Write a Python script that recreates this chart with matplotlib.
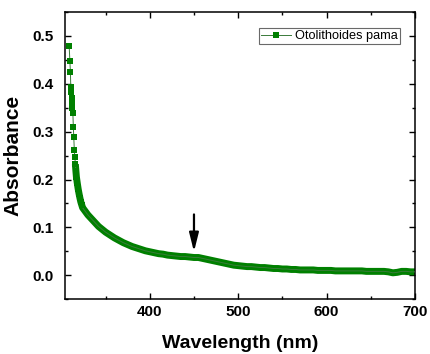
import matplotlib
matplotlib.use("Agg")
import matplotlib.pyplot as plt
from matplotlib.ticker import MultipleLocator

plt.rcParams['font.family'] = ['Liberation Sans', 'DejaVu Sans']

wavelength = [308.8, 309.6, 310.2, 310.6, 311.2, 311.6, 312.0, 312.4, 313.0, 313.5,
              314.0, 314.6, 315.2, 315.8, 316.4, 317.0, 318.0, 319.0, 320.0, 321.0,
              322.0, 323.0, 324.0, 326.0, 328.0, 330.0, 332.0, 334.0, 336.0, 338.0,
              340.0, 342.0, 344.0, 346.0, 348.0, 350.0, 355.0, 360.0, 365.0, 370.0,
              375.0, 380.0, 385.0, 390.0, 395.0, 400.0, 405.0, 410.0, 415.0, 420.0,
              425.0, 430.0, 435.0, 440.0, 445.0, 450.0, 455.0, 460.0, 465.0, 470.0,
              475.0, 480.0, 485.0, 490.0, 495.0, 500.0, 505.0, 510.0, 515.0, 520.0,
              525.0, 530.0, 535.0, 540.0, 545.0, 550.0, 555.0, 560.0, 565.0, 570.0,
              575.0, 580.0, 585.0, 590.0, 595.0, 600.0, 605.0, 610.0, 615.0, 620.0,
              625.0, 630.0, 635.0, 640.0, 645.0, 650.0, 655.0, 660.0, 665.0, 670.0,
              675.0, 680.0, 685.0, 690.0, 695.0, 700.0]
absorbance = [0.479, 0.447, 0.425, 0.394, 0.382, 0.370, 0.358, 0.350, 0.338, 0.310,
              0.289, 0.262, 0.247, 0.232, 0.218, 0.205, 0.192, 0.180, 0.170, 0.161,
              0.153, 0.147, 0.141, 0.136, 0.131, 0.126, 0.122, 0.118, 0.114, 0.110,
              0.106, 0.102, 0.099, 0.096, 0.093, 0.090, 0.084, 0.078, 0.073, 0.068,
              0.064, 0.060, 0.057, 0.054, 0.051, 0.049, 0.047, 0.045, 0.044, 0.042,
              0.041, 0.040, 0.039, 0.039, 0.038, 0.037, 0.037, 0.035, 0.033, 0.031,
              0.029, 0.027, 0.025, 0.023, 0.021, 0.020, 0.019, 0.018, 0.018, 0.017,
              0.016, 0.016, 0.015, 0.014, 0.014, 0.013, 0.013, 0.012, 0.012, 0.011,
              0.011, 0.011, 0.011, 0.010, 0.010, 0.010, 0.010, 0.009, 0.009, 0.009,
              0.009, 0.009, 0.009, 0.009, 0.008, 0.008, 0.008, 0.008, 0.008, 0.007,
              0.005, 0.006, 0.008, 0.008, 0.007, 0.007]
series_label = "Otolithoides pama"
arrow_x = 450
arrow_from = 0.127
arrow_to = 0.049

fig = plt.figure(figsize=(4.30, 3.54), dpi=100)
ax = fig.add_axes([0.151, 0.155, 0.814, 0.811])

# dense marker trace rendered as a thick band, discrete squares at the steep start
ax.plot(wavelength[13:], absorbance[13:], color='#008000', lw=5.0,
        solid_capstyle='butt', solid_joinstyle='round', zorder=2)
ax.plot(wavelength, absorbance, color='#3a7a3a', lw=0.7, marker='s',
        markersize=4.6, markeredgewidth=0, markerfacecolor='#008000',
        markevery=list(range(0, 22)), label=series_label, zorder=3)

ax.annotate('', xy=(arrow_x, arrow_to), xytext=(arrow_x, arrow_from),
            arrowprops=dict(arrowstyle='-|>,head_length=0.8,head_width=0.2',
                            color='black', lw=1.6, mutation_scale=14,
                            shrinkA=0, shrinkB=0))

ax.set_xlim(304, 700)
ax.set_ylim(-0.05, 0.55)
ax.xaxis.set_minor_locator(MultipleLocator(50))
ax.yaxis.set_major_locator(MultipleLocator(0.1))
ax.yaxis.set_minor_locator(MultipleLocator(0.05))
ax.set_xticks([400, 500, 600, 700])
ax.set_xticklabels(['400', '500', '600', '700'])

ax.tick_params(which='both', direction='in', top=True, right=True, width=1.0)
ax.tick_params(which='major', length=4)
ax.tick_params(which='minor', length=2.5)
ax.tick_params(axis='x', pad=4)
ax.tick_params(axis='y', pad=8)
for lab in ax.get_xticklabels() + ax.get_yticklabels():
    lab.set_fontweight('bold')
    lab.set_fontsize(11)
for sp in ax.spines.values():
    sp.set_linewidth(1.1)

ax.set_xlabel('Wavelength (nm)', fontsize=14, fontweight='bold', labelpad=12)
ax.set_ylabel('Absorbance', fontsize=15, fontweight='bold', labelpad=7)

leg = ax.legend(loc='upper right', bbox_to_anchor=(0.957, 0.944), borderaxespad=0,
                fontsize=9.2, frameon=True, fancybox=False, borderpad=0.15,
                handlelength=2.4, handletextpad=0.3, markerscale=1.0)
leg.get_frame().set_edgecolor('#444444')
leg.get_frame().set_linewidth(0.8)

fig.savefig('out.png', dpi=100)
